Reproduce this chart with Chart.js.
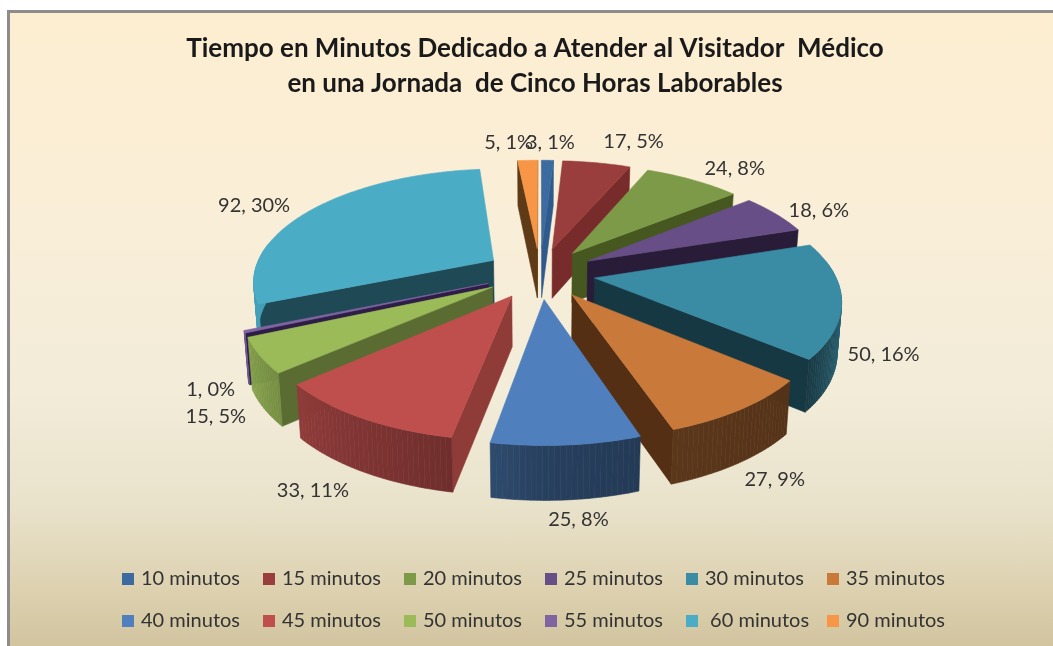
<!DOCTYPE html>
<html><head><meta charset="utf-8">
<style>
html,body{margin:0;padding:0;width:1053px;height:646px;background:#fff;overflow:hidden}
#panel{position:absolute;left:7px;top:10px;right:0;bottom:0;border-left:3px solid #8c8c8c;border-top:3px solid #8c8c8c;
background:linear-gradient(180deg,#fdeed1 0%,#f9eed8 35%,#f2ecd9 60%,#e9e2cb 78%,#ddd1b0 91%,#d2c49f 100%)}
canvas{position:absolute;left:0;top:0}
</style>
<script src="https://cdn.jsdelivr.net/npm/chart.js@4/dist/chart.umd.js"></script>
</head><body>
<div id="panel"></div>
<canvas id="c" width="1053" height="646"></canvas>
<script>
const titleLines=['Tiempo en Minutos Dedicado a Atender al Visitador  Médico','en una Jornada  de Cinco Horas Laborables'];
const categories=['10 minutos','15 minutos','20 minutos','25 minutos','30 minutos','35 minutos','40 minutos','45 minutos','50 minutos','55 minutos',' 60 minutos','90 minutos'];
const values=[3,17,24,18,50,27,25,33,15,1,92,5];
const percents=[1,5,8,6,16,9,8,11,5,0,30,1];
const faceColors=['#3c6ba0','#993e3c','#7c9a47','#674e87','#3a8ba4','#c9793a','#4f80bd','#be4f4d','#9bbb59','#8064a2','#4bacc6','#f79646'];
const wallColors=['#2f5a8e','#772b2a','#46581f','#281c38','#163843','#542f14','#26446b','#8f3b38','#5b6c33','#2e1e47','#1f4955','#5e3a17'];
// label nudges from each slice's rim midpoint (style only)
const labelNudge=[[3,-18],[37,-21],[42,-11],[43,-3],[42,54],[34,70],[12,75],[-49,72],[-44,61],[-34,58],[-57,-5],[-19,-18]];

const VIEW={dx:5,dy:0,kx:1.395,squash:0.4625,persp:0.17,explode:0.23,depth:50,depthY:4};
const RIM_SHADE=[[90,.9],[105,.72],[130,.42],[160,.45],[180,.5],[190,.58],[228,.75],[246,.88],[270,.95]];

function shade(hex,f){const n=parseInt(hex.slice(1),16);
  return 'rgb('+[(n>>16)&255,(n>>8)&255,n&255].map(v=>Math.round(v*f)).join(',')+')';}
function rimFactor(deg){const t=RIM_SHADE;
  if(deg<=t[0][0])return t[0][1];
  for(let i=1;i<t.length;i++)if(deg<=t[i][0]){const [a,fa]=t[i-1],[b,fb]=t[i];return fa+(fb-fa)*(deg-a)/(b-a);}
  return t[t.length-1][1];}

function projector(el){
  const {x,y,outerRadius,startAngle,endAngle}=el.getProps(['x','y','outerRadius','startAngle','endAngle'],true);
  const cx=x+VIEW.dx,cy=y+VIEW.dy,RX=outerRadius*VIEW.kx,RY=RX*VIEW.squash;
  const mid=(startAngle+endAngle)/2,ox=VIEW.explode*Math.cos(mid),oy=VIEW.explode*Math.sin(mid);
  const top=(th,r)=>{const X=ox+r*Math.cos(th),Y=oy+r*Math.sin(th),w=1-VIEW.persp*Y;
    return {x:cx+RX*X/w,y:cy+RY*Y/w,Y};};
  const low=(th,r)=>{const p=top(th,r);
    return {x:cx+(p.x-cx)*.985,y:p.y+VIEW.depth+VIEW.depthY*p.Y};};
  return {top,low,startAngle,endAngle,mid};
}
function fillPoly(ctx,pts,color){
  ctx.beginPath();pts.forEach((p,i)=>i?ctx.lineTo(p.x,p.y):ctx.moveTo(p.x,p.y));ctx.closePath();
  ctx.fillStyle=color;ctx.fill();ctx.strokeStyle=color;ctx.lineWidth=.6;ctx.stroke();
}
class Arc3D extends Chart.ArcElement{
  static id='arc3d';
  draw(ctx){
    const v=projector(this),a0=v.startAngle,a1=v.endAngle,i=this.$sliceIndex;
    const face=this.options.backgroundColor,wall=wallColors[i];
    ctx.save();
    if(Math.cos(a0+Math.PI/2-Math.PI/2)<0)
      fillPoly(ctx,[v.top(a0,0),v.top(a0,1),v.low(a0,1),v.low(a0,0)],wall);
    if(Math.cos(a1)>0)
      fillPoly(ctx,[v.top(a1,0),v.top(a1,1),v.low(a1,1),v.low(a1,0)],wall);
    const n=Math.max(6,Math.ceil((a1-a0)/0.02));
    for(let k=0;k<n;k++){
      const t0=a0+(a1-a0)*k/n,t1=a0+(a1-a0)*(k+1)/n,tm=(t0+t1)/2;
      if(Math.sin(tm)<-0.15)continue;
      const deg=((tm+Math.PI/2)*180/Math.PI+360)%360;
      fillPoly(ctx,[v.top(t0,1),v.top(t1,1),v.low(t1,1),v.low(t0,1)],shade(face,rimFactor(deg)));
    }
    const path=[v.top(a0,0)];
    for(let k=0;k<=n;k++)path.push(v.top(a0+(a1-a0)*k/n,1));
    fillPoly(ctx,path,face);
    ctx.restore();
  }
}
class Pie3D extends Chart.PieController{
  static id='pie3d';
  static defaults={dataElementType:'arc3d'};
  draw(){
    const ctx=this.chart.ctx,els=this.getMeta().data.map((el,i)=>{el.$sliceIndex=i;return el;});
    els.slice().sort((a,b)=>Math.sin((a.startAngle+a.endAngle)/2)-Math.sin((b.startAngle+b.endAngle)/2))
      .forEach(el=>el.draw(ctx));
  }
}
Chart.register(Arc3D,Pie3D);

const sliceLabels={id:'sliceLabels',afterDatasetsDraw(chart){
  const ctx=chart.ctx;ctx.save();
  ctx.font='20px Lato';ctx.fillStyle='#333';ctx.textAlign='center';ctx.textBaseline='middle';
  const order=[11,0,1,2,3,4,5,6,7,8,9,10];
  order.forEach(i=>{
    const v=projector(chart.getDatasetMeta(0).data[i]),p=v.top(v.mid,1);
    ctx.fillText(values[i]+', '+percents[i]+'%',p.x+labelNudge[i][0],p.y+labelNudge[i][1]);
  });
  ctx.restore();
}};
const LEG={x:122,y:579,colStep:141,rowStep:42,box:12,gap:7,perRow:6};
const gridLegend={id:'gridLegend',afterDraw(chart){
  const ctx=chart.ctx;ctx.save();
  ctx.font='20px Lato';ctx.textAlign='left';ctx.textBaseline='middle';
  chart.data.labels.forEach((t,i)=>{
    const x=LEG.x+LEG.colStep*(i%LEG.perRow),y=LEG.y+LEG.rowStep*Math.floor(i/LEG.perRow);
    ctx.fillStyle=faceColors[i];ctx.fillRect(x,y-LEG.box/2,LEG.box,LEG.box);
    ctx.fillStyle='#333';ctx.fillText(t,x+LEG.box+LEG.gap,y);
  });
  ctx.restore();
}};
new Chart(document.getElementById('c'),{
  type:'pie3d',
  data:{labels:categories,datasets:[{data:values,backgroundColor:faceColors,borderWidth:0}]},
  options:{responsive:false,animation:false,
    layout:{padding:{left:17,right:0,top:0,bottom:201}},
    plugins:{legend:{display:false},tooltip:{enabled:false},
      title:{display:true,text:titleLines,color:'#1a1a1a',font:{family:'Lato',size:26,weight:'bold',lineHeight:1.35},padding:{top:31,bottom:0}}}
  },
  plugins:[sliceLabels,gridLegend]
});
</script>
</body></html>
